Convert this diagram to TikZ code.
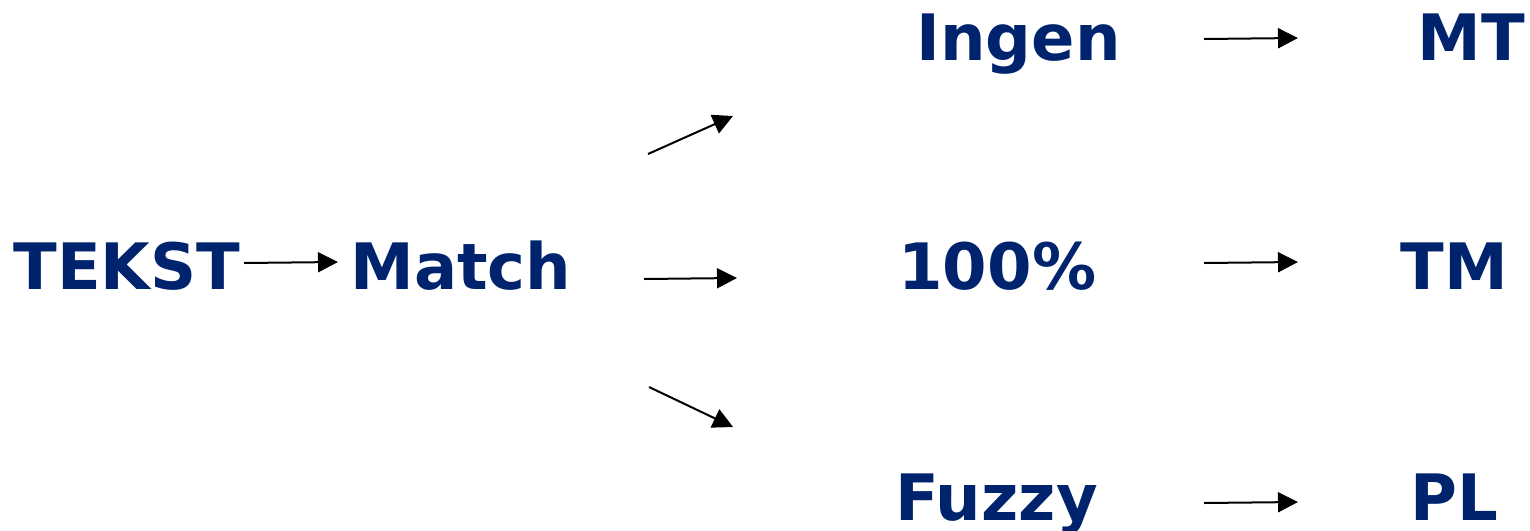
\documentclass[tikz,border=0pt]{standalone}
\usepackage{fontspec}
\setmainfont{DejaVu Sans}
\usetikzlibrary{arrows.meta}
\definecolor{navy}{RGB}{0,35,110}
\tikzset{
  lbl/.style={anchor=base west, inner sep=0pt, text=navy,
    font=\bfseries\fontsize{32pt}{32pt}\selectfont},
  flow/.style={line width=1pt, -{Triangle[length=10pt,width=10pt]}}
}
\begin{document}
\begin{tikzpicture}[x=0.5pt,y=-0.5pt]
\useasboundingbox (0,0) rectangle (1530,530);
% labels
\node[lbl] (tekst) at (13,289) {TEKST};
\node[lbl] (match) at (350,289) {Match};
\node[lbl] (ingen) at (916,60) {Ingen};
\node[lbl] (full) at (898,289) {100\%};
\node[lbl] (fuzzy) at (895,520) {Fuzzy};
\node[lbl] (mt) at (1417,60) {MT};
\node[lbl] (tm) at (1400,289) {TM};
\node[lbl] (pl) at (1410,520) {PL};
% arrow end points
\coordinate (a1) at (244,263); \coordinate (b1) at (338,262);
\coordinate (a2) at (648,154); \coordinate (b2) at (733,116);
\coordinate (a3) at (644,279); \coordinate (b3) at (737,278);
\coordinate (a4) at (649,387); \coordinate (b4) at (733,427);
\coordinate (a5) at (1204,39); \coordinate (b5) at (1298,38);
\coordinate (a6) at (1204,263); \coordinate (b6) at (1298,262);
\coordinate (a7) at (1204,503); \coordinate (b7) at (1298,502);
% arrows
\foreach \i in {1,...,7} \draw[flow] (a\i) -- (b\i);
\end{tikzpicture}
\end{document}
